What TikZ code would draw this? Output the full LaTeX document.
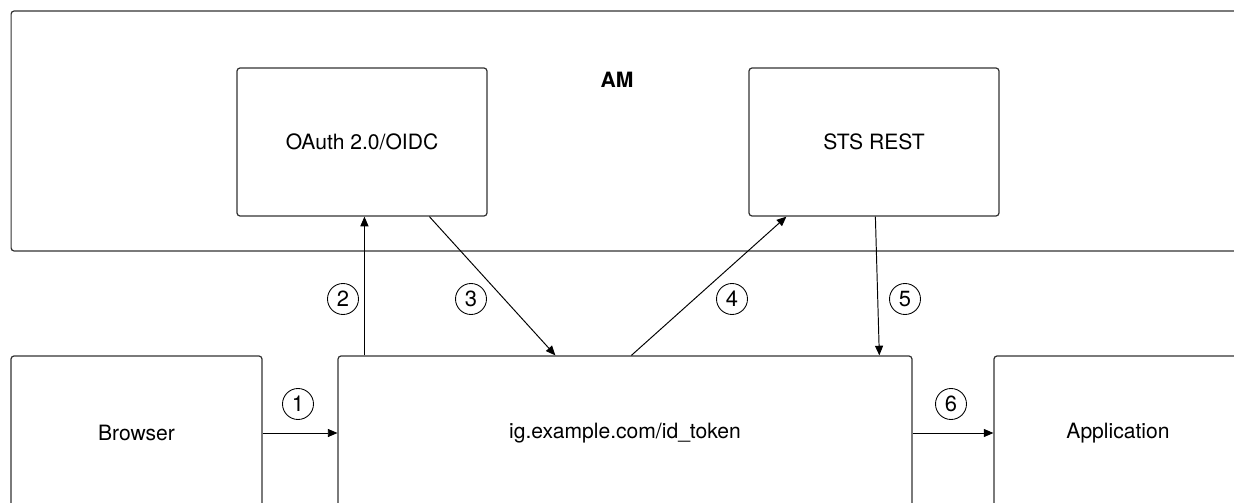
\documentclass[tikz,border=0pt]{standalone}
\usepackage{fontspec}
\setmainfont{TeX Gyre Heros}
\usetikzlibrary{arrows.meta}
\tikzset{
  box/.style={draw=black!80,line width=0.7pt,rounded corners=1.7pt,rectangle,
    minimum width=5cm,minimum height=2.96cm,inner sep=0pt,font=\fontsize{12}{14}\selectfont},
  step num/.style={draw,circle,line width=0.5pt,minimum size=0.62cm,inner sep=0pt,
    font=\fontsize{12.5}{14}\selectfont},
  arr/.style={line width=0.55pt,-{Triangle[length=5.5pt,width=4.6pt]}}
}
\begin{document}
\begin{tikzpicture}[x=0.02cm,y=-0.02cm]
  \clip (0,0) rectangle (1234,503);
  \fill[white] (0,0) rectangle (1234,503);
  % AM container
  \node[box,minimum width=24.68cm,minimum height=4.8cm] (am) at (628,131) {};
  \node[font=\fontsize{12}{14}\selectfont\bfseries] (amlabel) at (617,80) {AM};
  \node[box] (oauth) at (362,142) {OAuth 2.0/OIDC};
  \node[box] (sts) at (874,142) {STS REST};
  % bottom row
  \node[box,minimum width=5.02cm,minimum height=3.08cm] (browser) at (136.5,433) {Browser};
  \node[box,minimum width=11.48cm,minimum height=3.08cm] (ig) at (625,433) {ig.example.com/id\_token};
  \node[box,minimum width=4.96cm,minimum height=3.08cm] (app) at (1118,433) {Application};
  % connector ends
  \coordinate (p2) at ([xshift=0.54cm]ig.north west);
  \coordinate (p3a) at ([xshift=3.86cm]oauth.south west);
  \coordinate (p3b) at ([xshift=4.36cm]ig.north west);
  \coordinate (p4a) at ([xshift=5.88cm]ig.north west);
  \coordinate (p4b) at ([xshift=0.76cm]sts.south west);
  \coordinate (p5a) at ([xshift=2.54cm]sts.south west);
  \coordinate (p5b) at ([xshift=10.84cm]ig.north west);
  \draw[arr] (browser.east) -- (ig.west);
  \draw[arr] (p2) -- (p2 |- oauth.south);
  \draw[arr] (p3a) -- (p3b);
  \draw[arr] (p4a) -- (p4b);
  \draw[arr] (p5a) -- (p5b);
  \draw[arr] (ig.east) -- (app.west);
  % step numbers
  \node[step num] (n1) at (298,404) {1};
  \node[step num] (n2) at (343,299) {2};
  \node[step num] (n3) at (471,299) {3};
  \node[step num] (n4) at (732,299) {4};
  \node[step num] (n5) at (905,299) {5};
  \node[step num] (n6) at (951,404) {6};
\end{tikzpicture}
\end{document}
